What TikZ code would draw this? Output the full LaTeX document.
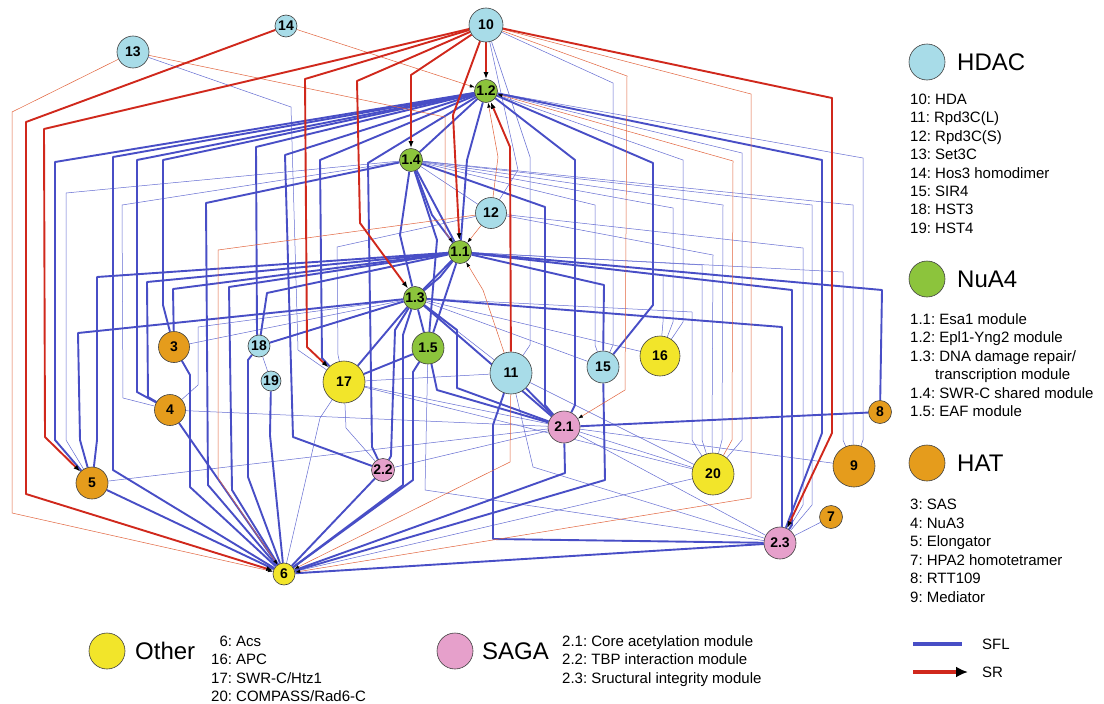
\documentclass[tikz,border=0pt]{standalone}
\usepackage{fontspec}
\setmainfont{Liberation Sans}
\frenchspacing
\usetikzlibrary{arrows.meta}
\pgfdeclarelayer{edges}
\pgfsetlayers{edges,main}
\definecolor{hdacc}{RGB}{168,220,232}
\definecolor{nuac}{RGB}{140,196,60}
\definecolor{hatc}{RGB}{229,156,28}
\definecolor{othc}{RGB}{242,229,42}
\definecolor{sagac}{RGB}{230,160,203}
\definecolor{bluec}{RGB}{72,78,198}
\definecolor{bluel}{RGB}{100,108,210}
\definecolor{redc}{RGB}{208,40,28}
\definecolor{redl}{RGB}{226,100,62}
\tikzset{
  nd/.style={circle, draw=black!75, line width=0.6pt, inner sep=0pt, font=\fontsize{14}{14}\selectfont\bfseries},
  hdac/.style={nd, fill=hdacc},
  nua/.style={nd, fill=nuac},
  hat/.style={nd, fill=hatc},
  oth/.style={nd, fill=othc},
  saga/.style={nd, fill=sagac},
  sflB/.style={draw=bluec, line width=1.9pt, line join=round},
  sflT/.style={draw=bluel, line width=0.5pt, line join=round},
  srB/.style={draw=redc, line width=1.9pt, line join=round, -{Latex[length=7pt,width=5pt,color=black]}},
  srT/.style={draw=redl, line width=0.5pt, line join=round, -{Latex[length=5pt,width=3.5pt,color=black]}},
  lgc/.style={circle, draw=black!75, line width=0.6pt, minimum size=36pt, inner sep=0pt},
  lgh/.style={font=\fontsize{24}{24}\selectfont, anchor=west, inner sep=0pt},
  lgt/.style={font=\fontsize{15}{15}\selectfont, anchor=base west, inner sep=0pt},
}
\begin{document}
\begin{tikzpicture}[x=1pt,y=-1pt]
\useasboundingbox (0,0) rectangle (1104,704);
% nodes
\node[hdac, minimum size=34pt] (N10) at (486,25) {10};
\node[hdac, minimum size=22pt] (N14) at (286,26) {14};
\node[hdac, minimum size=32pt] (N13) at (133,52) {13};
\node[nua, minimum size=23pt] (A2) at (486,91) {1.2};
\node[nua, minimum size=23pt] (A4) at (411,160) {1.4};
\node[hdac, minimum size=31pt] (N12) at (491,213) {12};
\node[nua, minimum size=23pt] (A1) at (460,252) {1.1};
\node[nua, minimum size=23pt] (A3) at (415,298) {1.3};
\node[hat, minimum size=31pt] (N3) at (174,347) {3};
\node[hdac, minimum size=22pt] (N18) at (259,346) {18};
\node[nua, minimum size=32pt] (A5) at (428,348) {1.5};
\node[hdac, minimum size=20pt] (N19) at (271,381) {19};
\node[oth, minimum size=42pt] (N17) at (344,382) {17};
\node[hdac, minimum size=42pt] (N11) at (511,373) {11};
\node[hdac, minimum size=32pt] (N15) at (603,367) {15};
\node[oth, minimum size=40pt] (N16) at (660,356) {16};
\node[hat, minimum size=31pt] (N4) at (170,410) {4};
\node[saga, minimum size=32pt] (S1) at (564,427) {2.1};
\node[hat, minimum size=23pt] (N8) at (880,412) {8};
\node[saga, minimum size=23pt] (S2) at (383,470) {2.2};
\node[hat, minimum size=32pt] (N5) at (92,483) {5};
\node[oth, minimum size=42pt] (N20) at (713,474) {20};
\node[hat, minimum size=42pt] (N9) at (854,466) {9};
\node[hat, minimum size=23pt] (N7) at (831,517) {7};
\node[saga, minimum size=32pt] (S3) at (780,543) {2.3};
\node[oth, minimum size=22pt] (N6) at (284,574) {6};

\begin{pgfonlayer}{edges}
\fill[white] (0,0) rectangle (1104,704);
% thin SFL
\draw[sflT] (A4) -- (66,193) -- (66,440) -- (N5);
\draw[sflT] (A4) -- (122,205) -- (123,398) -- (N4);
\draw[sflT] (N13) -- (291,107) -- (298,350) -- (N17);
\draw[sflT] (N10) -- (518,170) -- (N12);
\draw[sflT] (N10) -- (530,157) -- (530,345) -- (N11);
\draw[sflT] (N10) -- (613,83) -- (613,345) -- (N15);
\draw[sflT] (A2) -- (683,160) -- (683,322) -- (N16);
\draw[sflT] (A2) -- (742,153) -- (742,440) -- (N20);
\draw[sflT] (A2) -- (863,158) -- (863,440) -- (N9);
\draw[sflT] (A4) -- (595,205) -- (595,345) -- (N15);
\draw[sflT] (A4) -- (673,208) -- (673,322) -- (N16);
\draw[sflT] (A4) -- (723,205) -- (722,440) -- (N20);
\draw[sflT] (A4) -- (812,205) -- (812,505) -- (S3);
\draw[sflT] (A4) -- (853,205) -- (853,440) -- (N9);
\draw[sflT] (N12) -- (713,255) -- (712,440) -- (N20);
\draw[sflT] (N12) -- (803,248) -- (803,505) -- (S3);
\draw[sflT] (A1) -- (702,265) -- (702,440) -- (N20);
\draw[sflT] (A1) -- (663,275) -- (663,322) -- (N16);
\draw[sflT] (A1) -- (843,272) -- (843,440) -- (N9);
\draw[sflT] (A3) -- (N16);
\draw[sflT] (A3) -- (692,312) -- (692,440) -- (N20);
\draw[sflT] (A3) -- (N15);
\draw[sflT] (A3) -- (N11);
\draw[sflT] (N3) -- (A3);
\draw[sflT] (N4) -- (198,385) -- (198,327) -- (A3);
\draw[sflT] (N4) -- (S1);
\draw[sflT] (N5) -- (S1);
\draw[sflT] (N17) -- (S1);
\draw[sflT] (N17) -- (N11);
\draw[sflT] (N17) -- (N20);
\draw[sflT] (N17) -- (320,418) -- (N6);
\draw[sflT] (N17) -- (346,428) -- (S2);
\draw[sflT] (N12) -- (337,247) -- (338,355) -- (N17);
\draw[sflT] (S2) -- (S1);
\draw[sflT] (S1) -- (N20);
\draw[sflT] (S1) -- (N9);
\draw[sflT] (S1) -- (S3);
\draw[sflT] (N11) -- (533,467) -- (S3);
\draw[sflT] (A5) -- (425,490) -- (S3);
\draw[sflT] (N6) -- (N20);
\draw[sflT] (N7) -- (S3);
\draw[sflT] (N18) -- (N19);
\draw[sflT] (N12) -- (A4);
\draw[sflT] (N11) -- (N20);
\draw[sflT] (A3) -- (S1);
% thick SFL
\draw[sflB] (A2) -- (55,162) -- (55,440) -- (N5);
\draw[sflB] (A2) -- (113,157) -- (113,470) -- (N6);
\draw[sflB] (A2) -- (137,160) -- (137,392) -- (N4);
\draw[sflB] (A2) -- (163,160) -- (163,305) -- (N3);
\draw[sflB] (A2) -- (256,147) -- (257,333) -- (N18);
\draw[sflB] (A2) -- (285,155) -- (293,437) -- (S2);
\draw[sflB] (A2) -- (320,160) -- (322,358) -- (N17);
\draw[sflB] (A2) -- (368,163) -- (372,447) -- (S2);
\draw[sflB] (A2) -- (A4);
\draw[sflB] (A2) -- (467,160) -- (A1);
\draw[sflB] (A2) -- (575,160) -- (575,405) -- (S1);
\draw[sflB] (A2) -- (653,163) -- (653,305) -- (N15);
\draw[sflB] (A2) -- (822,160) -- (822,433) -- (S3);
\draw[sflB] (A4) -- (206,203) -- (208,485) -- (N6);
\draw[sflB] (A4) -- (A1);
\draw[sflB] (A4) -- (432,215) -- (A1);
\draw[sflB] (A4) -- (400,235) -- (A3);
\draw[sflB] (A4) -- (437,240) -- (A5);
\draw[sflB] (A4) -- (545,207) -- (545,405) -- (S1);
\draw[sflB] (A1) -- (97,277) -- (97,440) -- (N5);
\draw[sflB] (A1) -- (147,282) -- (148,397) -- (N4);
\draw[sflB] (A1) -- (173,289) -- (N3);
\draw[sflB] (A1) -- (229,287) -- (232,490) -- (N6);
\draw[sflB] (A1) -- (267,293) -- (N18);
\draw[sflB] (A1) -- (A3);
\draw[sflB] (A1) -- (440,277) -- (A3);
\draw[sflB] (A1) -- (A5);
\draw[sflB] (A1) -- (882,290) -- (N8);
\draw[sflB] (A1) -- (792,290) -- (792,525) -- (S3);
\draw[sflB] (A1) -- (604,285) -- (N15);
\draw[sflB] (A3) -- (78,333) -- (80,440) -- (N5);
\draw[sflB] (A3) -- (N18);
\draw[sflB] (A3) -- (N17);
\draw[sflB] (A3) -- (A5);
\draw[sflB] (A3) -- (395,330) -- (391,456) -- (S2);
\draw[sflB] (A3) -- (403,335) -- (403,485) -- (N6);
\draw[sflB] (A3) -- (457,330) -- (457,388) -- (S1);
\draw[sflB] (A3) -- (S1);
\draw[sflB] (A3) -- (782,327) -- (782,525) -- (S3);
\draw[sflB] (A5) -- (N17);
\draw[sflB] (A5) -- (413,372) -- (413,480) -- (N6);
\draw[sflB] (A5) -- (437,390) -- (S1);
\draw[sflB] (N3) -- (190,375) -- (190,487) -- (N6);
\draw[sflB] (N4) -- (N6);
\draw[sflB] (N5) -- (N6);
\draw[sflB] (N18) -- (248,360) -- (248,477) -- (N6);
\draw[sflB] (N19) -- (270,435) -- (N6);
\draw[sflB] (S2) -- (N6);
\draw[sflB] (N11) -- (S1);
\draw[sflB] (N11) -- (493,425) -- (493,539) -- (S3);
\draw[sflB] (S1) -- (565,473) -- (N6);
\draw[sflB] (N15) -- (605,480) -- (N6);
\draw[sflB] (S3) -- (N6);
\draw[sflB] (S1) -- (N8);
% thin SR
\draw[srT] (N14) -- (A2);
\draw[srT] (N13) -- (12,112) -- (12,513) -- (N6);
\draw[srT] (N13) -- (445,117) -- (445,232) -- (A1);
\draw[srT] (N12) -- (498,157) -- (A2);
\draw[srT] (N12) -- (A1);
\draw[srT] (N12) -- (218,250) -- (218,478) -- (N6);
\draw[srT] (N11) -- (483,290) -- (A1);
\draw[srT] (N11) -- (510,462) -- (N6);
\draw[srT] (N10) -- (627,76) -- (625,390) -- (S1);
\draw[srT] (N20) -- (732,440) -- (733,161) -- (A2);
\draw[srT] (N10) -- (751,94) -- (751,498) -- (N6);
% thick SR
\draw[srB] (N10) -- (A2);
\draw[srB] (N10) -- (411,75) -- (A4);
\draw[srB] (N10) -- (453,115) -- (A1);
\draw[srB] (N10) -- (357,81) -- (360,223) -- (A3);
\draw[srB] (N10) -- (305,79) -- (307,347) -- (N17);
\draw[srB] (N10) -- (44,129) -- (45,437) -- (N5);
\draw[srB] (N14) -- (26,122) -- (26,494) -- (N6);
\draw[srB] (N10) -- (832,98) -- (832,433) -- (S3);
\draw[srB] (N11) -- (510,147) -- (A2);
\end{pgfonlayer}

% legend
\node[lgc, fill=hdacc] (LC1) at (927,62) {};
\node[lgh] (LH1) at (957,62) {HDAC};
\foreach \t [count=\i] in {10: HDA, 11: Rpd3C(L), 12: Rpd3C(S), 13: Set3C, 14: Hos3 homodimer, 15: SIR4, 18: HST3, 19: HST4}
  \node[lgt] (LA\i) at (910,{104.5+18.4*(\i-1)}) {\t};
\node[lgc, fill=nuac] (LC2) at (927,279) {};
\node[lgh] (LH2) at (957,279) {NuA4};
\node[lgt] (LB1) at (910,324.5) {1.1: Esa1 module};
\node[lgt] (LB2) at (910,342.9) {1.2: Epl1-Yng2 module};
\node[lgt] (LB3) at (910,361.3) {1.3: DNA damage repair/};
\node[lgt] (LB4) at (935,379.7) {transcription module};
\node[lgt] (LB5) at (910,398.1) {1.4: SWR-C shared module};
\node[lgt] (LB6) at (910,416.5) {1.5: EAF module};
\node[lgc, fill=hatc] (LC3) at (927,463) {};
\node[lgh] (LH3) at (957,463) {HAT};
\foreach \t [count=\i] in {3: SAS, 4: NuA3, 5: Elongator, 7: HPA2 homotetramer, 8: RTT109, 9: Mediator}
  \node[lgt] (LD\i) at (910,{509.5+18.5*(\i-1)}) {\t};
\node[lgc, fill=othc] (LC4) at (107,651) {};
\node[lgh] (LH4) at (135,651) {Other};
\node[lgt] (LE1) at (211,646.5) {\phantom{1}6: Acs};
\node[lgt] (LE2) at (211,664.9) {16: APC};
\node[lgt] (LE3) at (211,683.3) {17: SWR-C/Htz1};
\node[lgt] (LE4) at (211,701.7) {20: COMPASS/Rad6-C};
\node[lgc, fill=sagac] (LC5) at (455,651) {};
\node[lgh] (LH5) at (482,651) {SAGA};
\node[lgt] (LF1) at (562,646.5) {2.1: Core acetylation module};
\node[lgt] (LF2) at (562,664.9) {2.2: TBP interaction module};
\node[lgt] (LF3) at (562,683.3) {2.3: Sructural integrity module};
\coordinate (SF1) at (913,644);
\coordinate (SF2) at (962,644);
\draw[bluec, line width=4pt] (SF1) -- (SF2);
\node[lgt, anchor=west] (LG1) at (982,644) {SFL};
\coordinate (SR1) at (913,672);
\coordinate (SR2) at (968,672);
\draw[redc, line width=4pt, -{Latex[length=12pt,width=11pt,color=black]}] (SR1) -- (SR2);
\node[lgt, anchor=west] (LG2) at (982,672) {SR};
\end{tikzpicture}
\end{document}
